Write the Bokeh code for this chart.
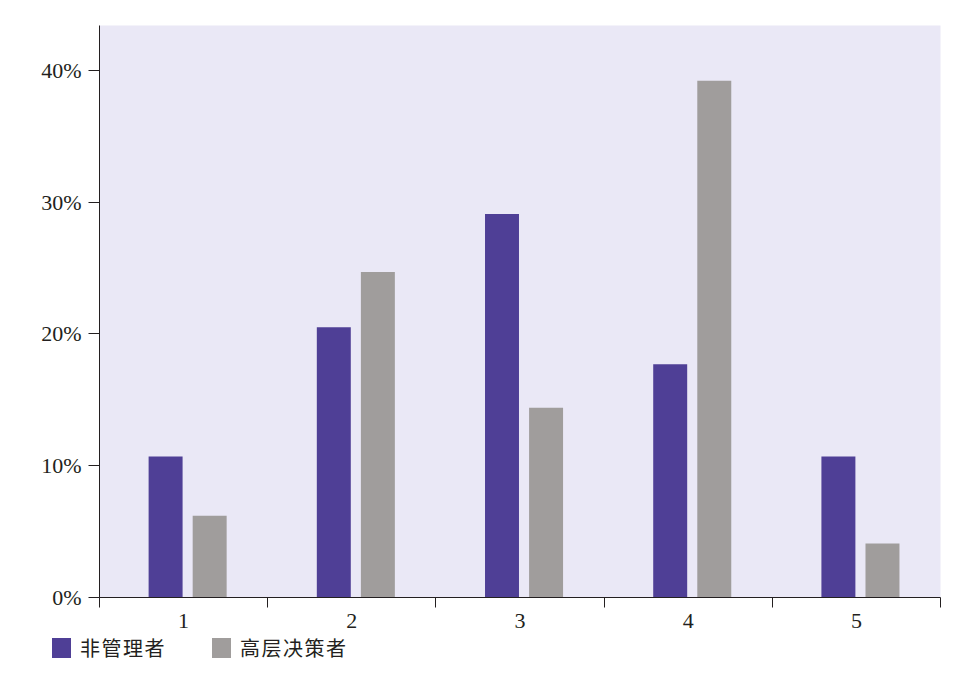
from bokeh.plotting import figure
from bokeh.layouts import column
from bokeh.models import ColumnDataSource, FixedTicker, NumeralTickFormatter, Range1d, Div
from bokeh.transform import dodge
from bokeh.embed import file_html
from bokeh.resources import INLINE

# Data
categories = [1, 2, 3, 4, 5]
non_managers = [0.107, 0.205, 0.291, 0.177, 0.107]
executives = [0.062, 0.247, 0.144, 0.392, 0.041]
series_names = ["非管理者", "高层决策者"]
y_ticks = [0, 0.1, 0.2, 0.3, 0.4]
colors = ["#4F3F96", "#A09D9C"]

src = ColumnDataSource(dict(x=categories, a=non_managers, b=executives))

p = figure(output_backend="svg", toolbar_location=None,
           frame_width=841, frame_height=572,
           min_border_left=99, min_border_top=25, min_border_right=14, min_border_bottom=41,
           x_range=Range1d(0.5, 5.5), y_range=Range1d(0, 0.434))

p.background_fill_color = "#EAE8F6"
p.border_fill_color = "white"
p.outline_line_color = None
p.grid.visible = False

p.vbar(x=dodge("x", -0.107, range=p.x_range), top="a", width=0.202, source=src,
       color=colors[0], line_color=None)
p.vbar(x=dodge("x", 0.155, range=p.x_range), top="b", width=0.202, source=src,
       color=colors[1], line_color=None)

axis_color = "#231F20"
font = "Liberation Serif"

xa = p.xaxis[0]
xa.ticker = FixedTicker(ticks=categories, minor_ticks=[0.5, 1.5, 2.5, 3.5, 4.5, 5.5])
xa.major_tick_out = 0
xa.major_tick_in = 0
xa.minor_tick_out = 10
xa.minor_tick_in = 0
xa.minor_tick_line_color = axis_color
xa.axis_line_color = axis_color
xa.major_label_text_font = font
xa.major_label_text_font_size = "22px"
xa.major_label_text_color = axis_color
xa.major_label_standoff = 6

ya = p.yaxis[0]
ya.ticker = FixedTicker(ticks=y_ticks)
ya.formatter = NumeralTickFormatter(format="0%")
ya.major_tick_out = 11
ya.major_tick_in = 0
ya.minor_tick_line_color = None
ya.major_tick_line_color = axis_color
ya.axis_line_color = axis_color
ya.major_label_text_font = font
ya.major_label_text_font_size = "22px"
ya.major_label_text_color = axis_color
ya.major_label_standoff = 7

# Legend strip below the chart
swatch_left = [52, 212]
parts = []
for name, col, left in zip(series_names, colors, swatch_left):
    parts.append(
        f'<span style="position:absolute;left:{left}px;top:0px;width:19px;height:20px;'
        f'background:{col};"></span>'
        f'<span style="position:absolute;left:{left + 28}px;top:-1px;line-height:22px;'
        f'white-space:nowrap;letter-spacing:1.5px;">{name}</span>'
    )
html = ('<div style="position:relative;width:954px;height:47px;'
        "font-family:'Noto Sans CJK SC';font-size:20px;color:#231F20;\">"
        + "".join(parts) + "</div>")
legend_div = Div(text=html, width=954, height=47, margin=0)

layout = column(p, legend_div, spacing=0)
open("out.html", "w").write(file_html(layout, INLINE))
